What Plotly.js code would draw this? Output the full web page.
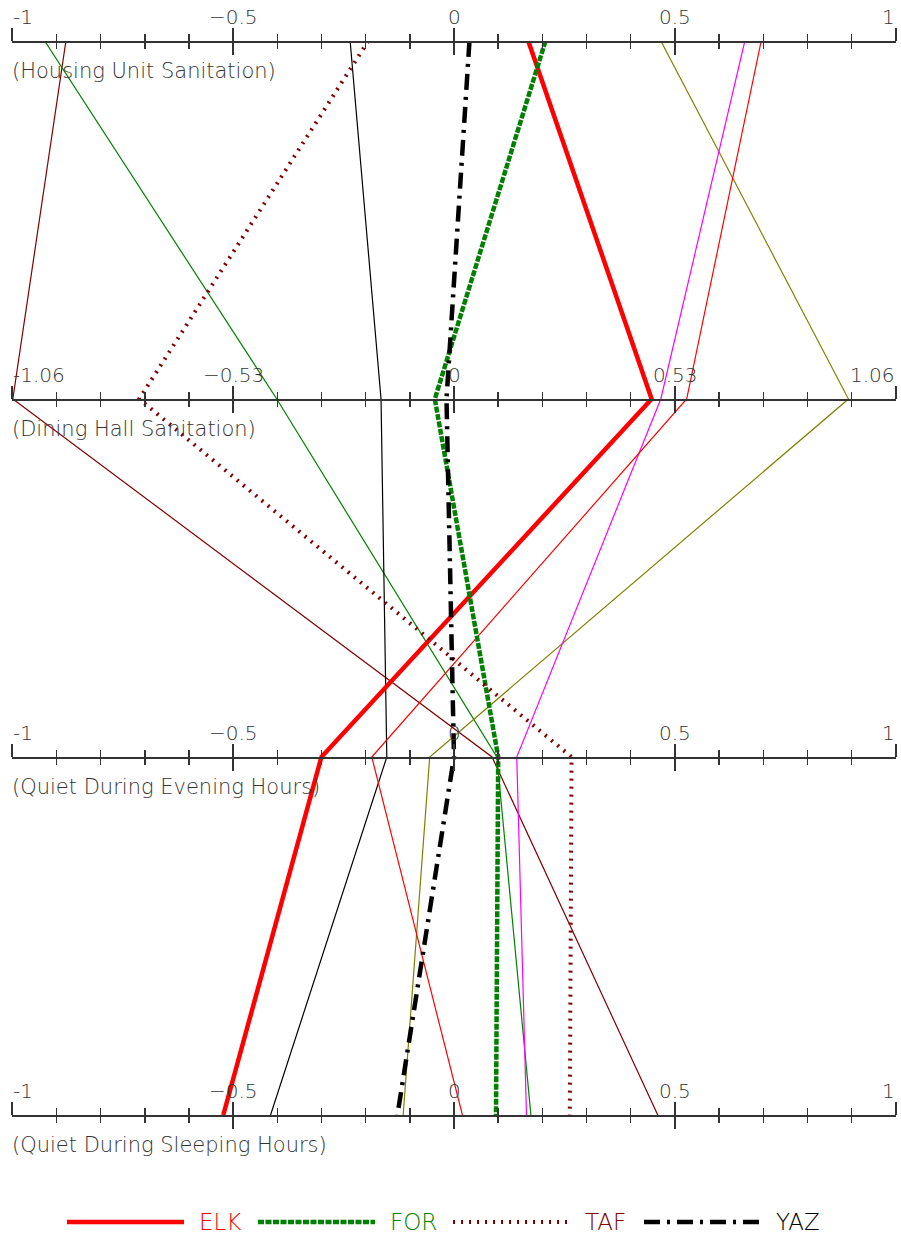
<!DOCTYPE html>
<html><head><meta charset="utf-8">
<script src="https://cdn.plot.ly/plotly-3.0.1.min.js"></script>
<style>html,body{margin:0;padding:0;background:#fff;}</style>
</head><body>
<div id="chart" style="width:901px;height:1238px"></div>
<script>
// ---- data ----
const dimensions = ['Housing Unit Sanitation', 'Dining Hall Sanitation', 'Quiet During Evening Hours', 'Quiet During Sleeping Hours'];
const dimExtent = [1, 1.06, 1, 1];
const tickValsStd = [-1, -0.5, 0, 0.5, 1];
const tickTextStd = ['-1', '\u22120.5', '0', '0.5', '1'];
const tickValsDining = [-1.06, -0.53, 0, 0.53, 1.06];
const tickTextDining = ['-1.06', '\u22120.53', '0', '0.53', '1.06'];

const legendNames = ['ELK', 'FOR', 'TAF', 'YAZ'];
const ELK = [0.168, 0.474, -0.300, -0.522];
const FOR = [0.207, -0.046, 0.100, 0.095];
const TAF = [-0.194, -0.755, 0.266, 0.262];
const YAZ = [0.035, -0.018, 0.000, -0.128];
const other1 = [-0.878, -1.058, 0.086, 0.461];
const other2 = [-0.926, -0.425, 0.097, 0.174];
const other3 = [-0.235, -0.175, -0.152, -0.415];
const other4 = [0.468, 0.946, -0.055, -0.115];
const other5 = [0.658, 0.496, 0.142, 0.164];
const other6 = [0.695, 0.558, -0.186, 0.019];

// ---- styles ----
const FONT = 'DejaVu Sans';
const TXT = '#333333';
const AXC = '#333333';
const thin = [
  {vals: other1, color: '#800000'},
  {vals: other2, color: '#008000'},
  {vals: other3, color: '#000000'},
  {vals: other4, color: '#808000'},
  {vals: other5, color: '#ff00ff'},
  {vals: other6, color: '#ff0000'}
];
const thick = [
  {name: legendNames[0], vals: ELK, color: '#ff0000', width: 4.5, dash: 'solid'},
  {name: legendNames[1], vals: FOR, color: '#008000', width: 4.5, dash: '6px,1.5px'},
  {name: legendNames[2], vals: TAF, color: '#800000', width: 4, dash: '2px,6px'},
  {name: legendNames[3], vals: YAZ, color: '#000000', width: 4.5, dash: '16px,7px,3px,7px'}
];
const rowY = dimensions.map((d, i) => dimensions.length - 1 - i);

function toX(vals) { return vals.map((v, i) => v / dimExtent[i]); }

const traces = [];
thin.forEach((s, k) => traces.push({
  type: 'scatter', mode: 'lines', x: toX(s.vals), y: rowY,
  line: {color: s.color, width: 1.2}, showlegend: false, hoverinfo: 'skip', name: 'other' + (k + 1)
}));
thick.forEach(s => traces.push({
  type: 'scatter', mode: 'lines', x: toX(s.vals), y: rowY, name: s.name,
  line: {color: s.color, width: s.width, dash: s.dash}, showlegend: false, hoverinfo: 'skip'
}));

// ---- layout geometry (pixels) ----
const W = 901, H = 1238, L = 12, R = 5, T = 41, B = 123;
const pw = W - L - R, ph = H - T - B;
const pxX = px => (px - L) / pw;
const pxY = py => (H - B - py) / ph;

const layout = {
  width: W, height: H,
  margin: {l: L, r: R, t: T, b: B, pad: 0},
  paper_bgcolor: '#fff', plot_bgcolor: 'rgba(0,0,0,0)',
  showlegend: false,
  font: {family: FONT, size: 20, color: TXT, weight: 200},
  xaxis: {range: [-1, 1], visible: false, fixedrange: true},
  yaxis: {range: [0, dimensions.length - 1], visible: false, fixedrange: true},
  annotations: [], shapes: []
};

dimensions.forEach((d, r) => {
  const e = dimExtent[r];
  const pos = 1 - r / (dimensions.length - 1);
  ['outside', 'inside'].forEach((side, j) => {
    const id = 2 + 2 * r + j;
    layout['xaxis' + id] = {
      overlaying: 'x', anchor: 'free', position: pos, side: 'top',
      range: [-e * 1.0005, e * 1.0005], fixedrange: true,
      showline: j === 0, linecolor: AXC, linewidth: 1.5,
      ticks: side, tickmode: 'linear', tick0: 0, dtick: e / 2,
      ticklen: 13, tickwidth: 1.5, tickcolor: AXC,
      minor: {ticks: side, tickmode: 'linear', tick0: 0, dtick: e / 10, ticklen: 7, tickwidth: 1.5, tickcolor: AXC},
      showticklabels: false, showgrid: false, zeroline: false
    };
    // empty carrier trace so the overlay axis is drawn
    traces.push({type: 'scatter', mode: 'lines', x: [], y: [], xaxis: 'x' + id, yaxis: 'y',
      showlegend: false, hoverinfo: 'skip'});
  });
  // axis title
  layout.annotations.push({
    xref: 'paper', yref: 'paper', x: pxX(10), y: pos, xanchor: 'left', yanchor: 'middle',
    yshift: -30, text: '(' + d + ')', showarrow: false,
    font: {family: FONT, size: 21, color: TXT, weight: 200}
  });
  // tick labels
  const tv = e === 1 ? tickValsStd : tickValsDining;
  const tt = e === 1 ? tickTextStd : tickTextDining;
  tv.forEach((v, k) => {
    layout.annotations.push({
      xref: 'x', yref: 'paper', x: v / e, y: pos,
      xanchor: k === 0 ? 'left' : (k === tv.length - 1 ? 'right' : 'center'),
      xshift: k === 0 ? -1 : (k === tv.length - 1 ? 1 : 0),
      yanchor: 'middle', yshift: 24, text: tt[k], showarrow: false,
      font: {family: FONT, size: 20, color: TXT, weight: 200}
    });
  });
});

// ---- custom legend (long line samples) ----
const legY = 1222;
const legLineStart = [67, 258, 453, 644];
const legLineLen = 117;
thick.forEach((s, k) => {
  layout.shapes.push({
    type: 'line', xref: 'paper', yref: 'paper',
    x0: pxX(legLineStart[k]), x1: pxX(legLineStart[k] + legLineLen),
    y0: pxY(legY), y1: pxY(legY),
    line: {color: s.color, width: s.width, dash: s.dash}
  });
  layout.annotations.push({
    xref: 'paper', yref: 'paper', x: pxX(legLineStart[k] + legLineLen + 13), y: pxY(legY),
    xanchor: 'left', yanchor: 'middle', text: s.name, showarrow: false,
    font: {family: FONT, size: 23, color: s.color, weight: 200}
  });
});

Plotly.newPlot('chart', traces, layout, {displayModeBar: false, staticPlot: true});
</script>
</body></html>
